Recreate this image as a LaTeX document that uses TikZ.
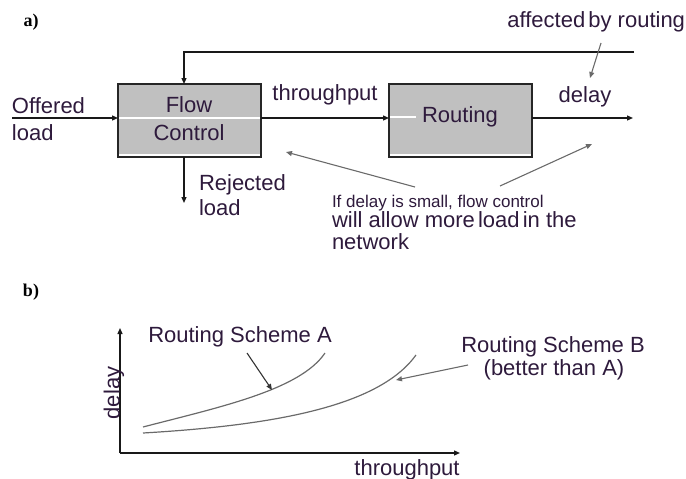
\documentclass[tikz,border=0pt]{standalone}
\usepackage{fontspec}
\setmainfont{Liberation Sans}
\newfontfamily\labserif{Liberation Serif}
\usetikzlibrary{arrows.meta}
\definecolor{txt}{HTML}{2E1A3C}
\definecolor{boxgray}{HTML}{C0C0C0}
\definecolor{linegray}{HTML}{6A6A6A}
\begin{document}
\begin{tikzpicture}[x=1pt,y=-1pt,
  every node/.style={inner sep=0pt,outer sep=0pt,text=txt},
  big/.style={font=\fontsize{22}{25}\selectfont},
  small/.style={font=\fontsize{17}{20}\selectfont},
  panel/.style={font=\labserif\bfseries\fontsize{18}{20}\selectfont,text=black},
  blockbox/.style={draw=black!85,fill=boxgray,line width=1.3pt,minimum width=143pt,minimum height=73pt,anchor=north west},
  conn/.style={draw=black!90,line width=1.3pt,-{Triangle[length=6pt,width=5pt]}},
  note/.style={draw=linegray,line width=1.1pt,-{Triangle[length=6pt,width=5pt]}},
  curve/.style={draw=linegray,line width=1.2pt}]
\useasboundingbox (0,0) rectangle (686,479);
% ---------- panel a ----------
\node[panel] (la) at (31,22) {a)};
\node[blockbox] (fc) at (118,84) {};
\node[blockbox] (rt) at (389,84) {};
% white artifact lines
\draw[white,line width=1.2pt] (119,118) -- (260,118);
\draw[white,line width=1.2pt] (119,155) -- (260,155);
\draw[white,line width=1.2pt] (390,117) -- (416,117);
\draw[white,line width=1.2pt] (390,155) -- (531,155);
\node[big] (fct) at (189,105) {Flow};
\node[big] (fcb) at (189,133) {Control};
\node[big] (rtt) at (460,117) {Routing};
% input
\coordinate (in) at (12,118);
\draw[conn] (in) -- (fc.west |- in);
\node[big,anchor=west] (off) at (12,106) {Offered};
\node[big,anchor=west] (offl) at (12,133) {load};
% throughput
\draw[conn] (fc.east |- in) -- (rt.west |- in);
\node[big] (thr) at (325,95) {throughput};
% output delay
\coordinate (out) at (633,118);
\draw[conn] (rt.east |- out) -- (out);
\node[big] (del) at (585,97) {delay};
% feedback
\coordinate (fbr) at (634,52);
\coordinate (fbl) at (184,52);
\draw[conn] (fbr) -- (fbl) -- (fbl |- fc.north);
% rejected
\coordinate (rej) at (184,203);
\draw[conn] (fbl |- fc.south) -- (rej);
\node[big,anchor=west] (rj1) at (199,185) {Rejected};
\node[big,anchor=west] (rj2) at (199,208) {load};
% affected by routing
\node[big,anchor=east] (aff) at (685,22) {affected\kern-3pt\ by routing};
\coordinate (affs) at (601,43);
\coordinate (affe) at (590,78);
\draw[note] (affs) -- (affe);
% note text
\node[small,anchor=west] (n1) at (332,203) {If delay is small, flow control};
\node[big,anchor=west] (n2) at (332,220) {will allow more\kern-3pt\ load\kern-3pt\ in the};
\node[big,anchor=west] (n3) at (332,242) {network};
\coordinate (na1) at (415,187);
\coordinate (na1e) at (286,152);
\coordinate (na2) at (500,186);
\coordinate (na2e) at (592,144);
\draw[note] (na1) -- (na1e);
\draw[note] (na2) -- (na2e);
% ---------- panel b ----------
\node[panel] (lb) at (31,292) {b)};
\coordinate (orig) at (120,453);
\coordinate (ytop) at (120,328);
\coordinate (xend) at (460,453);
\draw[conn] (orig) -- (ytop);
\draw[conn] (orig) -- (xend);
\node[big,rotate=90] (yl) at (114,393) {delay};
\node[big] (xl) at (407,470) {throughput};
% curves
\draw[curve] (143,427) .. controls (220,407) and (300,390) .. (325,353);
\draw[curve] (143,433) .. controls (280,425) and (380,405) .. (416,355);
\node[big] (sa) at (240,337) {Routing Scheme A};
\node[big] (sb) at (553,347) {Routing Scheme B};
\node[big] (sb2) at (554,370) {(better than A)};
\coordinate (saa) at (247,353);
\coordinate (saae) at (272,390);
\draw[note,draw=black!80] (saa) -- (saae);
\coordinate (sba) at (468,365);
\coordinate (sbae) at (396,380);
\draw[note] (sba) -- (sbae);
\end{tikzpicture}
\end{document}
